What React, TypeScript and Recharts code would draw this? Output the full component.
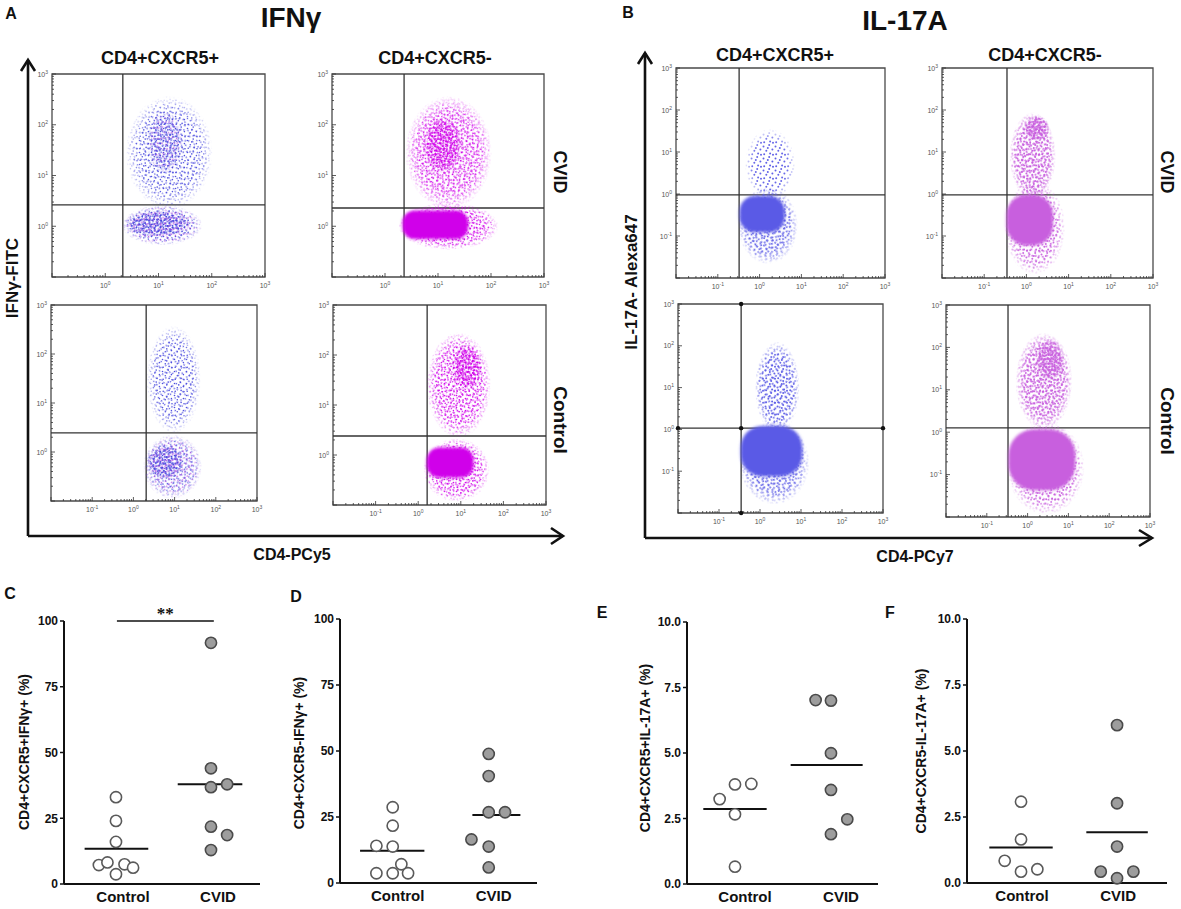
import React from "react";
import {
  ScatterChart,
  Scatter,
  XAxis,
  YAxis,
  ReferenceLine,
  ReferenceArea,
  ReferenceDot,
} from "recharts";

const FONT = '"Liberation Sans", Arial, Helvetica, sans-serif';

/** A cell population, in log10 decades */
type Blob = { x: number; y: number; sx: number; sy: number; n: number };

/* ---------- A: IFNγ-FITC vs CD4-PCy5 ---------- */
const ifnCvidPos: Blob[] = [
  { x: 1.07, y: 0.02, sx: 0.76, sy: 0.4, n: 0.5 },
  { x: 0.98, y: 0.05, sx: 0.64, sy: 0.26, n: 0.9 },
  { x: 1.2, y: 1.45, sx: 0.82, sy: 1.12, n: 0.3 },
  { x: 1.12, y: 1.65, sx: 0.34, sy: 0.62, n: 0.5 },
];
const ifnCvidNeg: Blob[] = [
  { x: 1.2, y: 0.0, sx: 0.95, sy: 0.47, n: 0.55 },
  { x: 1.2, y: 1.45, sx: 0.82, sy: 1.12, n: 0.5 },
  { x: 1.09, y: 1.6, sx: 0.36, sy: 0.56, n: 0.8 },
  { x: 0.95, y: 0.03, sx: 0.62, sy: 0.28, n: 1 },
];
const ifnCtrlPos: Blob[] = [
  { x: 0.98, y: 1.48, sx: 0.66, sy: 1.1, n: 0.35 },
  { x: 0.95, y: -0.3, sx: 0.72, sy: 0.66, n: 0.45 },
  { x: 0.77, y: -0.2, sx: 0.46, sy: 0.36, n: 0.9 },
];
const ifnCtrlNeg: Blob[] = [
  { x: 0.95, y: 1.4, sx: 0.76, sy: 1.06, n: 0.45 },
  { x: 1.15, y: 1.76, sx: 0.36, sy: 0.46, n: 0.75 },
  { x: 0.9, y: -0.3, sx: 0.78, sy: 0.64, n: 0.5 },
  { x: 0.75, y: -0.15, sx: 0.55, sy: 0.3, n: 1 },
];
const ifnCvidPosGate = [0.33, 0.42];
const ifnCvidNegGate = [0.36, 0.36];
const ifnCtrlPosGate = [0.31, 0.39];
const ifnCtrlNegGate = [0.21, 0.38];

/* ---------- B: IL-17A-Alexa647 vs CD4-PCy7 ---------- */
const il17CvidPos: Blob[] = [
  { x: 0.25, y: 0.7, sx: 0.6, sy: 0.85, n: 0.2 },
  { x: 0.2, y: -0.75, sx: 0.72, sy: 0.92, n: 0.3 },
  { x: 0.06, y: -0.48, sx: 0.54, sy: 0.43, n: 1 },
];
const il17CvidNeg: Blob[] = [
  { x: 0.15, y: 0.9, sx: 0.55, sy: 1.05, n: 0.45 },
  { x: 0.25, y: 1.57, sx: 0.3, sy: 0.3, n: 0.85 },
  { x: 0.2, y: -0.8, sx: 0.72, sy: 1.12, n: 0.3 },
  { x: 0.08, y: -0.62, sx: 0.55, sy: 0.6, n: 1 },
];
const il17CtrlPos: Blob[] = [
  { x: 0.42, y: 1.0, sx: 0.55, sy: 1.1, n: 0.25 },
  { x: 0.35, y: -0.8, sx: 0.86, sy: 1.0, n: 0.3 },
  { x: 0.28, y: -0.52, sx: 0.75, sy: 0.6, n: 1 },
];
const il17CtrlNeg: Blob[] = [
  { x: 0.4, y: 1.2, sx: 0.7, sy: 1.15, n: 0.5 },
  { x: 0.55, y: 1.72, sx: 0.35, sy: 0.5, n: 0.7 },
  { x: 0.45, y: -0.85, sx: 0.95, sy: 1.1, n: 0.3 },
  { x: 0.35, y: -0.65, sx: 0.82, sy: 0.72, n: 1 },
];
const il17CvidPosGate = [-0.49, -0.02];
const il17CvidNegGate = [-0.46, -0.02];
const il17CtrlPosGate = [-0.46, 0.03];
const il17CtrlNegGate = [-0.48, 0.1];

/* ---------- C-F: percentages per subject ---------- */
const groups = ["Control", "CVID"];

const cControl = [33, 24, 16, 7.2, 8.2, 7.5, 6.2, 3.7];
const cControlX = [1, 1, 1, 0.82, 0.91, 1.09, 1.18, 1];
const cCvid = [91.7, 44, 36.8, 37.9, 21.8, 18.6, 12.9];
const cCvidX = [2, 2, 2, 2.17, 2, 2.17, 2];
const cMedian = [13.4, 37.9];

const dControl = [28.7, 21.7, 14.1, 13.8, 7.1, 3.7, 3.7, 3.7];
const dControlX = [1, 1, 0.83, 1, 1.09, 0.83, 1, 1.16];
const dCvid = [48.9, 40.5, 26.8, 26.8, 16.5, 13.8, 5.9];
const dCvidX = [2, 2, 2, 2.17, 1.82, 2, 2];
const dMedian = [12.2, 25.8];

const eControl = [3.24, 3.8, 3.82, 2.66, 0.66];
const eControlX = [0.84, 1, 1.17, 1, 1];
const eCvid = [7.02, 7.0, 4.99, 3.59, 2.47, 1.9];
const eCvidX = [1.84, 2, 2, 2, 2.17, 2];
const eMedian = [2.86, 4.54];

const fControl = [3.08, 1.65, 0.84, 0.43, 0.52];
const fControlX = [1, 1, 0.83, 1, 1.17];
const fCvid = [5.98, 3.02, 1.38, 0.43, 0.18, 0.43];
const fCvidX = [2, 2, 2, 1.83, 2, 2.17];
const fMedian = [1.34, 1.92];

const pctTicks = [0, 25, 50, 75, 100];
const smallPctTicks = [0, 2.5, 5, 7.5, 10];

/* dot colours for the two stains */
const PALETTE: Record<string, { fill: string; alt?: string; r: number }> = {
  aBlue: { fill: "#4646de", alt: "#b44ce2", r: 0.8 },
  aMag: { fill: "#d000ea", r: 0.8 },
  bBlue: { fill: "#5a5ae6", r: 1.0 },
  bOrc: { fill: "#c85ede", r: 1.0 },
};
const SPK_TF = [
  "",
  "rotate(29) translate(3 5)",
  "rotate(61) translate(7 2)",
  "rotate(113) translate(1 9)",
  "rotate(157) translate(5 7)",
  "rotate(203) translate(9 3)",
  "rotate(247) translate(4 1)",
];
const TILE_DOTS = [
  [1.5, 2.5], [7.2, 1.1], [4.3, 6.8], [10.4, 5.6],
  [2.2, 10.3], [8.1, 9.4], [5.8, 3.9], [11.0, 10.8],
];

const flowPanels = [
  { key: "a1", box: { x: 52, y: 74, w: 213, h: 203 }, xd: [-1, 3], yd: [-1, 3], xl: [0, 1, 2, 3], yl: [0, 1, 2, 3], gate: ifnCvidPosGate, blobs: ifnCvidPos, tone: "aBlue" },
  { key: "a2", box: { x: 332, y: 74, w: 212, h: 203 }, xd: [-1, 3], yd: [-1, 3], xl: [0, 1, 2, 3], yl: [0, 1, 2, 3], gate: ifnCvidNegGate, blobs: ifnCvidNeg, tone: "aMag" },
  { key: "a3", box: { x: 51, y: 305, w: 206, h: 196 }, xd: [-2, 3], yd: [-1, 3], xl: [-1, 0, 1, 2, 3], yl: [0, 1, 2, 3], gate: ifnCtrlPosGate, blobs: ifnCtrlPos, tone: "aBlue" },
  { key: "a4", box: { x: 333, y: 305, w: 213, h: 200 }, xd: [-2, 3], yd: [-1, 3], xl: [-1, 0, 1, 2, 3], yl: [0, 1, 2, 3], gate: ifnCtrlNegGate, blobs: ifnCtrlNeg, tone: "aMag" },
  { key: "b1", box: { x: 676, y: 68, w: 209, h: 210 }, xd: [-2, 3], yd: [-2, 3], xl: [-1, 0, 1, 2, 3], yl: [-1, 0, 1, 2, 3], gate: il17CvidPosGate, blobs: il17CvidPos, tone: "bBlue" },
  { key: "b2", box: { x: 942, y: 68, w: 211, h: 210 }, xd: [-2, 3], yd: [-2, 3], xl: [-1, 0, 1, 2, 3], yl: [-1, 0, 1, 2, 3], gate: il17CvidNegGate, blobs: il17CvidNeg, tone: "bOrc" },
  { key: "b3", box: { x: 678, y: 304, w: 205, h: 209 }, xd: [-2, 3], yd: [-2, 3], xl: [-1, 0, 1, 2, 3], yl: [-1, 0, 1, 2, 3], gate: il17CtrlPosGate, blobs: il17CtrlPos, tone: "bBlue", gateDots: true },
  { key: "b4", box: { x: 946, y: 305, w: 204, h: 212 }, xd: [-2, 3], yd: [-2, 3], xl: [-1, 0, 1, 2, 3], yl: [-1, 0, 1, 2, 3], gate: il17CtrlNegGate, blobs: il17CtrlNeg, tone: "bOrc" },
];

function decadeTicks(d: number[]) {
  const out: number[] = [];
  for (let e = d[0]; e < d[1]; e++) for (let k = 1; k < 10; k++) out.push(e + Math.log10(k));
  out.push(d[1]);
  return out;
}
const isMajor = (v: number) => Math.abs(v - Math.round(v)) < 1e-9;

const LogLabel = ({ x, y, e, anchor }: any) => (
  <text x={x} y={y} textAnchor={anchor} fontSize={7} fill="#555" fontFamily={FONT}>
    10
    <tspan dy={-3} fontSize={5}>
      {e}
    </tspan>
  </text>
);

function FlowPlot({ p }: { p: (typeof flowPanels)[number] }) {
  const ML = 34, MT = 8, MR = 8, XH = 18;
  const { box, xd, yd, gate, tone } = p;
  const pxX = box.w / (xd[1] - xd[0]);
  const pxY = box.h / (yd[1] - yd[0]);
  const data = p.blobs.map((b, i) => ({ ...b, i }));
  const halo = data.filter((b) => b.n < 0.95);
  const cores = data.filter((b) => b.n >= 0.95);

  const speckle = (s: any) => {
    const b = s.payload;
    const layers = Math.min(7, Math.max(1, Math.round(b.n * 6)));
    return (
      <g>
        {Array.from({ length: layers }, (_, k) => (
          <ellipse
            key={k}
            cx={s.cx}
            cy={s.cy}
            rx={b.sx * pxX}
            ry={b.sy * pxY}
            fill={`url(#spk-${tone}-${(b.i * 3 + k) % 7})`}
            mask="url(#fadeSoft)"
          />
        ))}
      </g>
    );
  };
  const core = (s: any) => {
    const b = s.payload;
    const rx = b.sx * pxX, ry = b.sy * pxY;
    return (
      <rect
        x={s.cx - rx}
        y={s.cy - ry}
        width={rx * 2}
        height={ry * 2}
        rx={Math.min(rx, ry) * 0.85}
        fill={PALETTE[tone].fill}
        filter="url(#soft)"
      />
    );
  };

  return (
    <div style={{ position: "absolute", left: box.x - ML, top: box.y - MT }}>
      <ScatterChart width={box.w + ML + MR} height={box.h + MT + XH} margin={{ top: MT, right: MR, bottom: 0, left: 0 }}>
        <XAxis
          type="number"
          dataKey="x"
          domain={xd}
          ticks={decadeTicks(xd)}
          interval={0}
          allowDataOverflow
          axisLine={false}
          tickLine={false}
          tickSize={0}
          tickMargin={0}
          height={XH}
          tick={(t: any) => {
            const v = t.payload.value, e = Math.round(v);
            return (
              <g>
                <line x1={t.x} x2={t.x} y1={t.y} y2={t.y - (isMajor(v) ? 4 : 2)} stroke="#333" strokeWidth={0.8} />
                {isMajor(v) && p.xl.includes(e) && <LogLabel x={t.x} y={t.y + 11} e={e} anchor="middle" />}
              </g>
            );
          }}
        />
        <YAxis
          type="number"
          dataKey="y"
          domain={yd}
          ticks={decadeTicks(yd)}
          interval={0}
          allowDataOverflow
          axisLine={false}
          tickLine={false}
          tickSize={0}
          tickMargin={0}
          width={ML}
          tick={(t: any) => {
            const v = t.payload.value, e = Math.round(v);
            return (
              <g>
                <line x1={t.x} x2={t.x + (isMajor(v) ? 4 : 2)} y1={t.y} y2={t.y} stroke="#333" strokeWidth={0.8} />
                {isMajor(v) && p.yl.includes(e) && <LogLabel x={t.x - 4} y={t.y + 2.5} e={e} anchor="end" />}
              </g>
            );
          }}
        />
        <Scatter data={halo} shape={speckle} isAnimationActive={false} />
        <Scatter data={cores} shape={core} isAnimationActive={false} />
        <ReferenceArea x1={xd[0]} x2={xd[1]} y1={yd[0]} y2={yd[1]} fill="none" stroke="#4a4a4a" strokeWidth={1.3} />
        <ReferenceLine x={gate[0]} stroke="#333" strokeWidth={1.3} />
        <ReferenceLine y={gate[1]} stroke="#333" strokeWidth={1.3} />
        {p.gateDots &&
          [
            [gate[0], yd[0]],
            [gate[0], yd[1]],
            [xd[0], gate[1]],
            [xd[1], gate[1]],
            [gate[0], gate[1]],
          ].map(([x, y], i) => <ReferenceDot key={i} x={x} y={y} r={2.2} fill="#111" stroke="none" />)}
      </ScatterChart>
    </div>
  );
}

const dotPanels = [
  { key: "c", axis: 64, top: 621, bottom: 884, right: 260, xd: [0.453, 2.516], max: 100, ticks: pctTicks, shift: 7, ctrl: cControl, ctrlX: cControlX, cvid: cCvid, cvidX: cCvidX, med: cMedian, span: [[-0.33, 0.34], [-0.35, 0.33]], sig: true },
  { key: "d", axis: 340, top: 619, bottom: 883, right: 537, xd: [0.451, 2.503], max: 100, ticks: pctTicks, shift: 5, ctrl: dControl, ctrlX: dControlX, cvid: dCvid, cvidX: dCvidX, med: dMedian, span: [[-0.34, 0.33], [-0.17, 0.33]] },
  { key: "e", axis: 687, top: 622, bottom: 884, right: 878, xd: [0.5, 2.49], max: 10, ticks: smallPctTicks, shift: 10, ctrl: eControl, ctrlX: eControlX, cvid: eCvid, cvidX: eCvidX, med: eMedian, span: [[-0.33, 0.33], [-0.42, 0.33]] },
  { key: "f", axis: 967, top: 619, bottom: 883, right: 1167, xd: [0.4375, 2.52], max: 10, ticks: smallPctTicks, shift: 1, ctrl: fControl, ctrlX: fControlX, cvid: fCvid, cvidX: fCvidX, med: fMedian, span: [[-0.33, 0.33], [-0.32, 0.32]] },
];

const openDot = (s: any) => <circle cx={s.cx} cy={s.cy} r={5.6} fill="#fff" stroke="#5a5a5a" strokeWidth={1.6} />;
const greyDot = (s: any) => <circle cx={s.cx} cy={s.cy} r={5.6} fill="#9d9d9d" stroke="#4a4a4a" strokeWidth={1.6} />;

function DotPlot({ p }: { p: (typeof dotPanels)[number] }) {
  const YW = 44, MT = 24, XH = 30, MR = 4;
  const plotW = p.right - p.axis;
  const plotH = p.bottom - p.top;
  const ctrlData = p.ctrl.map((v, i) => ({ x: p.ctrlX[i], v }));
  const cvidData = p.cvid.map((v, i) => ({ x: p.cvidX[i], v }));
  const small = p.max < 50;
  return (
    <div style={{ position: "absolute", left: p.axis - YW, top: p.top - MT }}>
      <ScatterChart width={YW + plotW + MR} height={MT + plotH + XH} margin={{ top: MT, right: MR, bottom: 0, left: 0 }}>
        <XAxis
          type="number"
          dataKey="x"
          domain={p.xd}
          ticks={[1, 2]}
          interval={0}
          allowDataOverflow
          axisLine={{ stroke: "#111", strokeWidth: 2 }}
          tickLine={false}
          tickSize={0}
          tickMargin={0}
          height={XH}
          tick={(t: any) => (
            <text x={t.x + p.shift} y={t.y + 18} textAnchor="middle" fontSize={15} fontWeight={700} fontFamily={FONT} fill="#111">
              {groups[t.payload.value - 1]}
            </text>
          )}
        />
        <YAxis
          type="number"
          dataKey="v"
          domain={[0, p.max]}
          ticks={p.ticks}
          interval={0}
          width={YW}
          axisLine={{ stroke: "#111", strokeWidth: 2 }}
          tickLine={{ stroke: "#111", strokeWidth: 1.5 }}
          tickSize={4}
          tickMargin={2}
          tick={{ fontSize: 12, fontWeight: 700, fill: "#111", fontFamily: FONT }}
          tickFormatter={(v: number) => (small ? v.toFixed(1) : String(v))}
        />
        <Scatter data={ctrlData} shape={openDot} isAnimationActive={false} />
        <Scatter data={cvidData} shape={greyDot} isAnimationActive={false} />
        {p.med.map((m, i) => (
          <ReferenceLine
            key={i}
            segment={[
              { x: i + 1 + p.span[i][0], y: m },
              { x: i + 1 + p.span[i][1], y: m },
            ]}
            stroke="#111"
            strokeWidth={2}
            ifOverflow="visible"
          />
        ))}
        {p.sig && (
          <ReferenceLine
            segment={[
              { x: 1.01, y: 100 },
              { x: 2.03, y: 100 },
            ]}
            stroke="#111"
            strokeWidth={1.6}
            ifOverflow="visible"
            label={{ value: "**", position: "top", offset: 2, fontSize: 17, fontWeight: 700, fill: "#111" }}
          />
        )}
      </ScatterChart>
    </div>
  );
}

const T = ({ x, y, size, rot = 0, children }: any) => (
  <div
    style={{
      position: "absolute",
      left: x,
      top: y,
      transform: `translate(-50%, -50%) rotate(${rot}deg)`,
      fontSize: size,
      fontWeight: 700,
      fontFamily: FONT,
      whiteSpace: "nowrap",
      lineHeight: 1,
      color: "#111",
    }}
  >
    {children}
  </div>
);

function Defs() {
  return (
    <svg width={0} height={0} style={{ position: "absolute" }}>
      <defs>
        {Object.entries(PALETTE).map(([key, c]) =>
          SPK_TF.map((tf, k) => (
            <pattern
              key={key + k}
              id={`spk-${key}-${k}`}
              width={12}
              height={12}
              patternUnits="userSpaceOnUse"
              {...(tf ? { patternTransform: tf } : {})}
            >
              {TILE_DOTS.map(([x, y], i) => (
                <circle key={i} cx={x} cy={y} r={c.r} fill={c.alt && k % 3 === 2 ? c.alt : c.fill} />
              ))}
            </pattern>
          ))
        )}
        <radialGradient id="gSoft">
          <stop offset="0" stopColor="#fff" stopOpacity={1} />
          <stop offset="0.7" stopColor="#fff" stopOpacity={0.9} />
          <stop offset="1" stopColor="#fff" stopOpacity={0} />
        </radialGradient>
        <mask id="fadeSoft" maskContentUnits="objectBoundingBox">
          <rect width={1} height={1} fill="url(#gSoft)" />
        </mask>
        <filter id="soft">
          <feGaussianBlur stdDeviation={1.4} />
        </filter>
      </defs>
    </svg>
  );
}

export default function App() {
  const ax = { stroke: "#111", strokeWidth: 2.6, fill: "none" };
  return (
    <div style={{ position: "relative", width: 1181, height: 909, background: "#fff", overflow: "hidden" }}>
      <style>{`body{margin:0}`}</style>
      <Defs />

      {/* axis arrows around the dot plot grids */}
      <svg width={1181} height={909} style={{ position: "absolute", left: 0, top: 0 }}>
        <polyline points="28,536 28,60" {...ax} />
        <polyline points="21,71 28,60 35,71" {...ax} />
        <polyline points="28,536 563,536" {...ax} />
        <polyline points="551,528 563,536 551,544" {...ax} />
        <polyline points="645,538 645,53" {...ax} />
        <polyline points="638,64 645,53 652,64" {...ax} />
        <polyline points="645,538 1152,538" {...ax} />
        <polyline points="1139,530 1152,538 1139,546" {...ax} />
      </svg>

      {flowPanels.map((p) => (
        <FlowPlot key={p.key} p={p} />
      ))}
      {dotPanels.map((p) => (
        <DotPlot key={p.key} p={p} />
      ))}

      <T x={11} y={14} size={16}>A</T>
      <T x={628} y={13} size={16}>B</T>
      <T x={291} y={18} size={28}>IFNγ</T>
      <T x={905} y={21} size={28}>IL-17A</T>
      <T x={160} y={58} size={18}>CD4+CXCR5+</T>
      <T x={435} y={58} size={18}>CD4+CXCR5-</T>
      <T x={775} y={55} size={18}>CD4+CXCR5+</T>
      <T x={1045} y={55} size={18}>CD4+CXCR5-</T>
      <T x={12} y={278} size={17} rot={-90}>IFNγ-FITC</T>
      <T x={631} y={282} size={17} rot={-90}>IL-17A- Alexa647</T>
      <T x={560} y={172} size={18} rot={90}>CVID</T>
      <T x={560} y={420} size={19} rot={90}>Control</T>
      <T x={1167} y={172} size={18} rot={90}>CVID</T>
      <T x={1167} y={421} size={19} rot={90}>Control</T>
      <T x={292} y={555} size={16}>CD4-PCy5</T>
      <T x={915} y={557} size={16}>CD4-PCy7</T>

      <T x={10} y={594} size={16}>C</T>
      <T x={296} y={597} size={16}>D</T>
      <T x={602} y={613} size={16}>E</T>
      <T x={890} y={613} size={16}>F</T>
      <T x={24} y={752} size={14} rot={-90}>CD4+CXCR5+IFNγ+ (%)</T>
      <T x={299} y={753} size={14} rot={-90}>CD4+CXCR5-IFNγ+ (%)</T>
      <T x={645} y={748} size={14} rot={-90}>CD4+CXCR5+IL-17A+ (%)</T>
      <T x={921} y={751} size={14} rot={-90}>CD4+CXCR5-IL-17A+ (%)</T>
    </div>
  );
}
